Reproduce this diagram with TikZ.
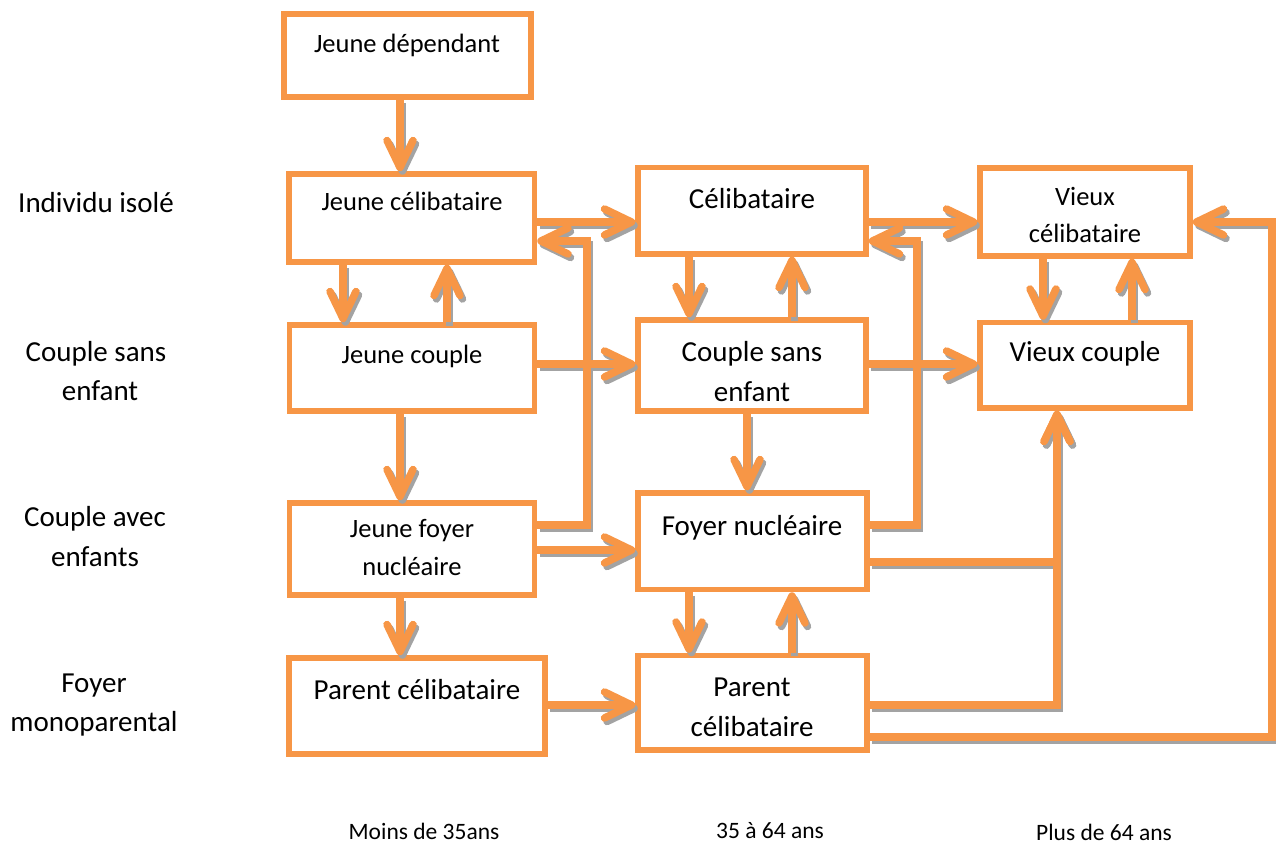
\documentclass[tikz,border=0pt]{standalone}
\usepackage{fontspec}
\setmainfont{Carlito}
\usetikzlibrary{arrows.meta}
\definecolor{boxorange}{RGB}{247,150,70}
\definecolor{dropgray}{RGB}{163,163,163}
\newcommand\bigtxt{\fontsize{29}{39}\selectfont}
\newcommand\smalltxt{\fontsize{26.5}{38}\selectfont}
\newcommand\axistxt{\fontsize{23.5}{30}\selectfont}

\tikzset{
  stage/.style={draw=boxorange, line width=5.5pt, inner sep=0pt},
  lbl/.style={anchor=base, inner sep=0pt, font=\bigtxt},
  lblsmall/.style={anchor=base, inner sep=0pt, font=\smalltxt},
  axislbl/.style={anchor=base, inner sep=0pt, font=\axistxt},
  flow/.style={line width=7.5pt, line join=miter},
  flowshadow/.style={flow, draw=dropgray, transform canvas={shift={(2.5,3.5)}}},
  flowmain/.style={flow, draw=boxorange},
  tip/.style={-{Straight Barb[round, length=27pt, width=26pt]}},
}

% every connector, drawn once per layer (shadow, then colour)
\newcommand\flowpaths[1]{%
  % vertical links
  \draw[#1,tip] (jd.south -| xL) -- (jc.north -| xL);
  \draw[#1,tip] (jc.south -| xLd) -- (jcp.north -| xLd);
  \draw[#1,tip] (jcp.north -| xLu) -- (jc.south -| xLu);
  \draw[#1,tip] (jcp.south -| xL) -- (jf.north -| xL);
  \draw[#1,tip] (jf.south -| xL) -- (pcl.north -| xL);
  \draw[#1,tip] (cel.south -| xMd) -- (csf.north -| xMd);
  \draw[#1,tip] (csf.north -| xMu) -- (cel.south -| xMu);
  \draw[#1,tip] (csf.south -| xM) -- (fn.north -| xM);
  \draw[#1,tip] (fn.south -| xMd) -- (pcm.north -| xMd);
  \draw[#1,tip] (pcm.north -| xMu) -- (fn.south -| xMu);
  \draw[#1,tip] (vce.south -| xRd) -- (vco.north -| xRd);
  \draw[#1,tip] (vco.north -| xRu) -- (vce.south -| xRu);
  % horizontal links
  \draw[#1,tip] (jc.east |- yA) -- (cel.west |- yA);
  \draw[#1,tip] (cel.east |- yA) -- (vce.west |- yA);
  \draw[#1,tip] (jcp.east |- yC) -- (csf.west |- yC);
  \draw[#1,tip] (csf.east |- yC) -- (vco.west |- yC);
  \draw[#1,tip] (jf.east |- yE) -- (fn.west |- yE);
  \draw[#1,tip] (pcl.east |- yG) -- (pcm.west |- yG);
  % elbow links
  \draw[#1,tip] (jf.east |- yD) -- (r1 |- yD) -- (r1 |- yB) -- (jc.east |- yB);
  \draw[#1,tip] (fn.east |- yD) -- (r2 |- yD) -- (r2 |- yB) -- (cel.east |- yB);
  \draw[#1,tip] (fn.east |- yF) -- (r3 |- yF) -- (vco.south -| r3);
  \draw[#1,tip] (pcm.east |- yG) -- (r3 |- yG) -- (vco.south -| r3);
  \draw[#1,tip] (pcm.east |- yH) -- (r4 |- yH) -- (r4 |- yA) -- (vce.east |- yA);
}

\begin{document}
\begin{tikzpicture}[x=1pt, y=-1pt]
  \useasboundingbox (0,0) rectangle (1276,845);

  % columns and rows of the links
  \coordinate (xL)  at (400,0);
  \coordinate (xLd) at (343,0);
  \coordinate (xLu) at (447,0);
  \coordinate (xM)  at (747,0);
  \coordinate (xMd) at (689,0);
  \coordinate (xMu) at (792,0);
  \coordinate (xRd) at (1043,0);
  \coordinate (xRu) at (1132,0);
  \coordinate (r1)  at (587,0);
  \coordinate (r2)  at (917,0);
  \coordinate (r3)  at (1057,0);
  \coordinate (r4)  at (1272,0);
  \coordinate (yA)  at (0,222);
  \coordinate (yB)  at (0,241);
  \coordinate (yC)  at (0,364);
  \coordinate (yD)  at (0,525);
  \coordinate (yE)  at (0,550);
  \coordinate (yF)  at (0,562);
  \coordinate (yG)  at (0,705);
  \coordinate (yH)  at (0,737);

  % stages
  \node[stage, minimum width=247pt,   minimum height=83pt]   (jd)  at (407.5,55.5) {};
  \node[stage, minimum width=245.5pt, minimum height=88pt]   (jc)  at (411.75,218) {};
  \node[stage, minimum width=245pt,   minimum height=86pt]   (jcp) at (412,368) {};
  \node[stage, minimum width=245pt,   minimum height=92pt]   (jf)  at (412,549) {};
  \node[stage, minimum width=256pt,   minimum height=96pt]   (pcl) at (417,706) {};
  \node[stage, minimum width=228pt,   minimum height=86.5pt] (cel) at (752,210.75) {};
  \node[stage, minimum width=228pt,   minimum height=91pt]   (csf) at (752,365.5) {};
  \node[stage, minimum width=229pt,   minimum height=96.5pt] (fn)  at (752.5,541.25) {};
  \node[stage, minimum width=229pt,   minimum height=94.5pt] (pcm) at (752.5,702.75) {};
  \node[stage, minimum width=210pt,   minimum height=88pt]   (vce) at (1085,212) {};
  \node[stage, minimum width=210pt,   minimum height=85.5pt] (vco) at (1085,365.25) {};

  % stage texts
  \node[lblsmall] (jd-t)  at (407,53)    {Jeune dépendant};
  \node[lblsmall] (jc-t)  at (412,211)   {Jeune célibataire};
  \node[lblsmall] (jcp-t) at (412,363)   {Jeune couple};
  \node[lblsmall] (jf-t1) at (412,537)   {Jeune foyer};
  \node[lblsmall] (jf-t2) at (412,575)   {nucléaire};
  \node[lbl]      (pcl-t) at (417,699)   {Parent célibataire};
  \node[lbl]      (cel-t) at (752,208)   {Célibataire};
  \node[lbl]      (csf-t1) at (752,361)  {Couple sans};
  \node[lbl]      (csf-t2) at (752,401.5){enfant};
  \node[lbl]      (fn-t)  at (752,535)   {Foyer nucléaire};
  \node[lbl]      (pcm-t1) at (752,696)  {Parent};
  \node[lbl]      (pcm-t2) at (752,736)  {célibataire};
  \node[lblsmall] (vce-t1) at (1085,205) {Vieux};
  \node[lblsmall] (vce-t2) at (1085,242.5){célibataire};
  \node[lbl]      (vco-t) at (1085,361.5){Vieux couple};

  % household types
  \node[lbl] (row1)  at (96,212) {Individu isolé};
  \node[lbl] (row2a) at (96,361) {Couple sans};
  \node[lbl] (row2b) at (100,400) {enfant};
  \node[lbl] (row3a) at (95,526)   {Couple avec};
  \node[lbl] (row3b) at (95,566)   {enfants};
  \node[lbl] (row4a) at (94,692)   {Foyer};
  \node[lbl] (row4b) at (94,731)   {monoparental};

  % age groups
  \node[axislbl] (age1) at (424,839)  {Moins de 35ans};
  \node[axislbl] (age2) at (770,838)  {35 à 64 ans};
  \node[axislbl] (age3) at (1104,840) {Plus de 64 ans};

  % links
  \flowpaths{flowshadow}
  \flowpaths{flowmain}
\end{tikzpicture}
\end{document}
